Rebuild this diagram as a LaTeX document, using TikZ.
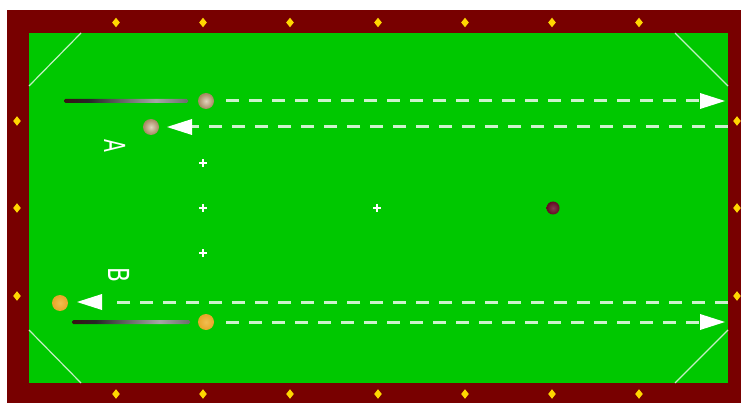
\documentclass[tikz,border=0pt]{standalone}
\usepackage{fontspec}
\setmainfont{DejaVu Sans}
\definecolor{felt}{RGB}{0,200,0}
\definecolor{rail}{RGB}{120,0,0}
\definecolor{dia}{RGB}{255,215,0}
\definecolor{cuein}{RGB}{225,212,190}
\definecolor{cueout}{RGB}{165,135,95}
\definecolor{yball}{RGB}{232,165,40}
\definecolor{yin}{RGB}{240,190,80}
\definecolor{bball}{RGB}{100,10,35}
\definecolor{pocketline}{RGB}{195,240,195}
\definecolor{trailc}{RGB}{205,242,205}
\pgfdeclarehorizontalshading{cueshade}{100bp}{color(0bp)=(black); color(15bp)=(rail!60!black); color(35bp)=(black!85); color(62bp)=(black!35); color(85bp)=(black!75); color(100bp)=(black)}
\begin{document}
\begin{tikzpicture}[x=1pt,y=-1pt,
  ballA/.style={circle,minimum size=16pt,inner sep=0pt,shading=radial,inner color=cuein,outer color=cueout},
  ballY/.style={circle,minimum size=16pt,inner sep=0pt,shading=radial,inner color=yin,outer color=yball},
  ballK/.style={circle,minimum size=13pt,inner sep=0pt,shading=radial,inner color=bball!80!white,outer color=bball},
  cuebox/.style={rectangle,minimum height=4pt,inner sep=0pt,rounded corners=1.5pt,shading=cueshade},
  trail/.style={draw=trailc,line width=3pt,dash pattern=on 13pt off 10pt},
  headtip/.style={fill=white},
  corner/.style={draw=pocketline,line width=1.2pt},
  letter/.style={text=white,font=\fontsize{29}{29}\selectfont,inner sep=0pt,rotate=-90},
  dmd/.pic={\fill[dia] (-3.8,0) -- (0,-4.8) -- (3.8,0) -- (0,4.8) -- cycle;},
  crs/.pic={\draw[white,line width=1.3pt] (-4,0) -- (4,0) (0,-4) -- (0,4);}
]
\useasboundingbox (0,0) rectangle (743,403);
\fill[white] (0,0) rectangle (743,403);
% table
\fill[rail] (7,10) rectangle (741,403);
\fill[felt] (29,33) rectangle (728,383);
% pocket lines
\draw[corner] (29,86) -- (81,33);
\draw[corner] (675,33) -- (728,86);
\draw[corner] (29,330) -- (81,383);
\draw[corner] (675,383) -- (728,330);
% diamonds
\foreach \x in {116,203,290,378,465,552,639} {
  \pic at (\x,22.5) {dmd};
  \pic at (\x,394) {dmd};
}
\foreach \y in {121,208,296} {
  \pic at (17,\y) {dmd};
  \pic at (737,\y) {dmd};
}
% spots
\pic at (203,163) {crs};
\pic at (203,208) {crs};
\pic at (203,253) {crs};
\pic at (377,208) {crs};
% balls
\node[ballA] (a1) at (206,101) {};
\node[ballA] (a2) at (151,127) {};
\node[ballY] (b2) at (60,303) {};
\node[ballY] (b1) at (206,322) {};
\node[ballK] (k) at (553,208) {};
% cues
\node[cuebox,minimum width=124pt] (cueA) at (126,101) {};
\node[cuebox,minimum width=118pt] (cueB) at (131,322) {};
% trails
\coordinate (e1) at (700,101); \coordinate (t1) at (725,101);
\coordinate (s2) at (728,127); \coordinate (e2) at (192,127); \coordinate (t2) at (167,127);
\coordinate (s3) at (728,302); \coordinate (e3) at (102,302); \coordinate (t3) at (77,302);
\coordinate (e4) at (700,322); \coordinate (t4) at (725,322);
\draw[trail] ([xshift=12pt]a1.east) -- (e1);
\draw[trail] (s2) -- (e2);
\draw[trail] (s3) -- ([xshift=8pt]e3);
\draw[trail] ([xshift=12pt]b1.east) -- (e4);
\fill[headtip] (t1) -- ([yshift=8pt]e1) -- ([yshift=-8pt]e1) -- cycle;
\fill[headtip] (t2) -- ([yshift=8pt]e2) -- ([yshift=-8pt]e2) -- cycle;
\fill[headtip] (t3) -- ([yshift=8pt]e3) -- ([yshift=-8pt]e3) -- cycle;
\fill[headtip] (t4) -- ([yshift=8pt]e4) -- ([yshift=-8pt]e4) -- cycle;
% labels
\node[letter] (la) at (115,146) {\scalebox{0.65}[1]{A}};
\node[letter] (lb) at (119,275) {\scalebox{0.75}[1]{B}};
\end{tikzpicture}
\end{document}
